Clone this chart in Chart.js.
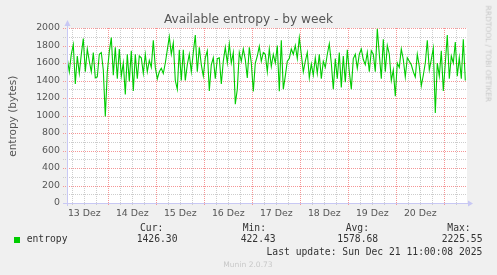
<!DOCTYPE html>
<html lang="de">
<head>
    <meta charset="UTF-8">
    <title>Available entropy - by week</title>
    <script src="https://cdn.jsdelivr.net/npm/chart.js"></script>
    <style>
        html, body { margin: 0; padding: 0; background: #f0f0f0; }
        #wrap { position: relative; width: 497px; height: 275px; overflow: hidden; }
        #wrap canvas { position: absolute; left: 0; top: 0; }
        .t { position: absolute; white-space: pre; font-family: "DejaVu Sans", sans-serif; }
        .m { position: absolute; white-space: pre; font-family: "DejaVu Sans Mono", monospace;
             font-size: 9.7px; line-height: 9.7px; color: #333; }
    </style>
</head>
<body>
<div id="wrap">
    <canvas id="entropyChart" width="497" height="275"></canvas>

    <div class="t" style="left:0; width:497px; text-align:center; top:13px; font-size:12.2px; line-height:12.2px; color:#555;">Available entropy - by week</div>
    <div class="t" style="left:-48.5px; top:110.7px; width:120px; text-align:center; font-size:10.5px; line-height:10.5px; color:#555; transform:rotate(-90deg);">entropy (bytes)</div>
    <div class="t" style="left:438px; top:49.6px; width:100px; text-align:center; font-size:7.5px; line-height:7.5px; color:#c8c8c8; transform:rotate(90deg);">RRDTOOL / TOBI OETIKER</div>

    <!-- legend block -->
    <div style="position:absolute; left:14px; top:236.5px; width:6px; height:6px; background:#00cc00;"></div>
    <div class="m" style="left:26.7px; top:233.8px;">entropy</div>
    <div class="m" style="left:140px; top:222.8px;">Cur:</div>
    <div class="m" style="left:136.7px; top:234.3px;" id="cur"></div>
    <div class="m" style="left:242.7px; top:222.8px;">Min:</div>
    <div class="m" style="left:240.7px; top:234.3px;" id="min"></div>
    <div class="m" style="left:345.7px; top:222.8px;">Avg:</div>
    <div class="m" style="left:337.3px; top:234.3px;" id="avg"></div>
    <div class="m" style="left:447.3px; top:222.8px;">Max:</div>
    <div class="m" style="left:441.7px; top:234.3px;" id="max"></div>
    <div class="m" style="right:14.7px; top:246.8px;">Last update: Sun Dec 21 11:00:08 2025</div>
    <div class="t" style="left:0; width:496px; text-align:center; top:260.8px; font-size:7.55px; line-height:7.55px; color:#c8c8c8;">Munin 2.0.73</div>
</div>

<script>
    // hours relative to 14 Dez 00:00, one sample per hour
    const sampleStartHour = -20.5;
    const sampleStepHours = 1;

    const entropyValues = [
        1650,1500,1700,1810,1360,1680,1480,1700,1880,1500,
        1760,1620,1500,1720,1430,1440,1700,1720,1520,990,
        1500,1730,1890,1460,1780,1420,1760,1450,1600,1240,
        1700,1390,1740,1280,1700,1420,1680,1660,1480,1700,
        1500,1630,1550,1860,1550,1420,1500,1540,1480,1600,
        1750,1900,1700,1830,1400,1300,1750,1400,1750,1400,
        1580,1700,1500,1720,1920,1500,1780,1580,1450,1660,
        1740,1280,1580,1660,1420,1650,1660,1360,1620,1780,
        1600,1820,1600,1720,1130,1300,1720,1620,1760,1640,
        1430,1780,
        1600,1276,1600,1680,1790,1620,1720,1700,1500,1760,
        1560,1700,1600,1800,1276,1860,1300,1450,1620,1650,
        1760,1700,1800,1650,1890,1700,1500,1620,1720,1430,
        1590,1460,1660,1480,1700,1420,1620,1550,1700,1820,
        1600,1300,1650,1420,1720,1320,1680,1380,1750,1500,
        1300,1650,1700,1540,1700,1760,1640,1580,1720,1500,
        1740,1700,1500,1990,1700,1420,1870,1500,1800,1700,
        1400,1520,1220,1600,1550,1760,1640,1440,1660,1620,
        1580,1500,1440,1700,1560,1340,1460,1600,1860,1520,
        1640,1770,1030,1600,1450,1740,1280,1600,1920,1420,
        1680,1600,1840,1450,1660,1420,1870,1400
    ];

    const dayLabels = ['13 Dez', '14 Dez', '15 Dez', '16 Dez', '17 Dez', '18 Dez', '19 Dez', '20 Dez'];
    const yTickValues = [0,100,200,300,400,500,600,700,800,900,1000,1100,1200,1300,1400,1500,1600,1700,1800,1900,2000];
    const legendStats = { cur: '1426.30', min: '422.43', avg: '1578.68', max: '2225.55' };

    document.getElementById('cur').textContent = legendStats.cur;
    document.getElementById('min').textContent = legendStats.min;
    document.getElementById('avg').textContent = legendStats.avg;
    document.getElementById('max').textContent = legendStats.max;

    const points = entropyValues.map((v, i) => ({ x: sampleStartHour + i * sampleStepHours, y: v }));

    const MAJOR = 'rgb(245,150,150)';
    const MINOR = 'rgb(205,205,205)';
    const AXIS = '#c8c8f4';
    const NONE = 'rgba(0,0,0,0)';

    // munin look: white plot area, dotted grid, axis arrows
    const munin = {
        id: 'munin',
        beforeDraw(chart) {
            const a = chart.chartArea, c = chart.ctx;
            c.save();
            c.fillStyle = '#ffffff';
            c.fillRect(a.left, a.top, a.right - a.left, a.bottom - a.top);
            c.restore();
        },
        beforeDatasetsDraw(chart) {
            const a = chart.chartArea, c = chart.ctx;
            const xs = chart.scales.x, ys = chart.scales.y;
            c.save();
            c.lineWidth = 1;
            c.setLineDash([1, 1]);
            // minor first, majors on top
            [false, true].forEach(major => {
                c.strokeStyle = major ? MAJOR : MINOR;
                c.beginPath();
                xs.ticks.forEach(t => {
                    if ((t.value % 24 === 0) !== major) return;
                    const px = Math.round(xs.getPixelForValue(t.value)) + 0.5;
                    c.moveTo(px, a.top);
                    c.lineTo(px, a.bottom + 3);
                });
                ys.ticks.forEach(t => {
                    if (t.value === 0) return;
                    if ((t.value % 200 === 0) !== major) return;
                    const py = Math.round(ys.getPixelForValue(t.value)) + 0.5;
                    c.moveTo(a.left - 4, py);
                    c.lineTo(a.right, py);
                });
                c.stroke();
            });
            c.restore();
        },
        afterDraw(chart) {
            const a = chart.chartArea, c = chart.ctx;
            const x0 = Math.round(a.left) + 0.5, y0 = Math.round(a.bottom) + 0.5;
            c.save();
            c.strokeStyle = AXIS;
            c.fillStyle = AXIS;
            c.lineWidth = 1;
            c.beginPath();
            c.moveTo(x0, a.bottom + 3);
            c.lineTo(x0, a.top - 4);
            c.moveTo(a.left - 4, y0);
            c.lineTo(a.right + 3, y0);
            c.stroke();
            c.beginPath();
            c.moveTo(x0, a.top - 8);
            c.lineTo(x0 - 3, a.top - 2);
            c.lineTo(x0 + 3, a.top - 2);
            c.closePath();
            c.fill();
            c.beginPath();
            c.moveTo(a.right + 6, y0);
            c.lineTo(a.right + 1, y0 - 3);
            c.lineTo(a.right + 1, y0 + 3);
            c.closePath();
            c.fill();
            c.restore();
        }
    };

    const ctx = document.getElementById('entropyChart').getContext('2d');
    new Chart(ctx, {
        type: 'line',
        data: {
            datasets: [{
                label: 'entropy',
                data: points,
                borderColor: '#00cc00',
                borderWidth: 1.1,
                pointRadius: 0,
                tension: 0,
                fill: false
            }]
        },
        options: {
            responsive: false,
            animation: false,
            devicePixelRatio: 1,
            layout: { padding: { left: 0, top: 28, right: 30, bottom: 0 } },
            plugins: { legend: { display: false }, tooltip: { enabled: false }, title: { display: false } },
            scales: {
                x: {
                    type: 'linear',
                    min: -20.65,
                    max: 179.35,
                    afterBuildTicks: (scale) => {
                        const t = [];
                        for (let v = -18; v <= 179; v += 6) t.push({ value: v });
                        scale.ticks = t;
                    },
                    afterFit: (scale) => { scale.height = 72; },
                    grid: { color: NONE, tickColor: NONE, tickLength: 3 },
                    border: { display: false },
                    ticks: {
                        autoSkip: false,
                        maxRotation: 0,
                        padding: 2,
                        color: '#555',
                        font: { family: 'DejaVu Sans', size: 9.4 },
                        callback: (v) => {
                            if ((v + 12) % 24 !== 0) return '';
                            return dayLabels[(v + 12) / 24] || '';
                        }
                    }
                },
                y: {
                    min: 0,
                    max: 2000,
                    afterBuildTicks: (scale) => { scale.ticks = yTickValues.map(v => ({ value: v })); },
                    afterFit: (scale) => { scale.width = 67; },
                    grid: { color: NONE, tickColor: NONE, tickLength: 4 },
                    border: { display: false },
                    ticks: {
                        autoSkip: false,
                        padding: 3,
                        color: '#555',
                        font: { family: 'DejaVu Sans', size: 9.4 },
                        callback: (v) => (v % 200 === 0 ? String(v) : '')
                    }
                }
            }
        },
        plugins: [munin]
    });
</script>
</body>
</html>
